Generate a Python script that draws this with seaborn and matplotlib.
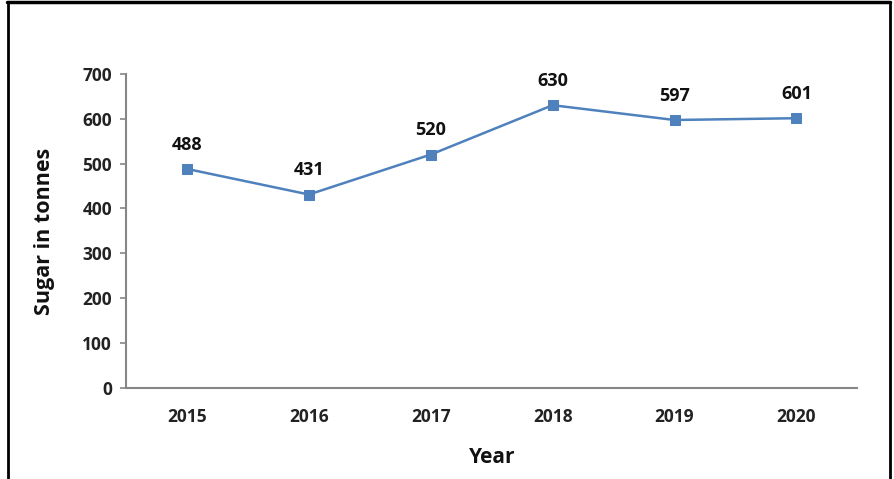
import matplotlib
matplotlib.use("Agg")
import matplotlib.pyplot as plt
import seaborn as sns
import pandas as pd

# data
years = ["2015", "2016", "2017", "2018", "2019", "2020"]
sugar = [488, 431, 520, 630, 597, 601]

df = pd.DataFrame({"Year": years, "Sugar": sugar})

sns.set_style("white")
plt.rcParams["font.family"] = ["Open Sans", "DejaVu Sans"]

fig = plt.figure(figsize=(8.94, 4.79), dpi=100)
ax = fig.add_axes([0.141, 0.19, 0.818, 0.656])

sns.lineplot(data=df, x="Year", y="Sugar", ax=ax, color="#4F81BD", linewidth=1.8,
             marker="s", markersize=7, markeredgecolor="#4F81BD", sort=False)

# value labels above each point
for i, v in enumerate(sugar):
    ax.annotate(str(v), (i, v), xytext=(0, 11), textcoords="offset points",
                ha="center", va="bottom", fontsize=13, fontweight="bold", color="#111111")

ax.set_xlim(-0.5, 5.5)
ax.set_ylim(0, 700)
ax.set_yticks(range(0, 701, 100))

for side in ["top", "right"]:
    ax.spines[side].set_visible(False)
for side in ["left", "bottom"]:
    ax.spines[side].set_color("#868686")
    ax.spines[side].set_linewidth(1.5)

ax.tick_params(axis="y", left=True, length=4, width=1.2, color="#868686", pad=6,
               labelsize=12.5)
ax.tick_params(axis="x", bottom=False, pad=11, labelsize=12.5)
for lab in ax.get_xticklabels() + ax.get_yticklabels():
    lab.set_fontweight("bold")
    lab.set_color("#222222")

ax.set_xlabel("Year", fontsize=15, fontweight="bold", labelpad=15, color="#111111")
ax.set_ylabel("Sugar in tonnes", fontsize=15.5, fontweight="bold", labelpad=20, color="#111111")

# frame around the chart (left, top, right)
fig.add_artist(plt.Line2D([0.009, 0.009], [0, 0.995], transform=fig.transFigure,
                          color="black", linewidth=2))
fig.add_artist(plt.Line2D([0.008, 0.996], [0.995, 0.995], transform=fig.transFigure,
                          color="black", linewidth=2.5))
fig.add_artist(plt.Line2D([0.996, 0.996], [0, 0.995], transform=fig.transFigure,
                          color="black", linewidth=2))

fig.savefig("out.png", dpi=100)
